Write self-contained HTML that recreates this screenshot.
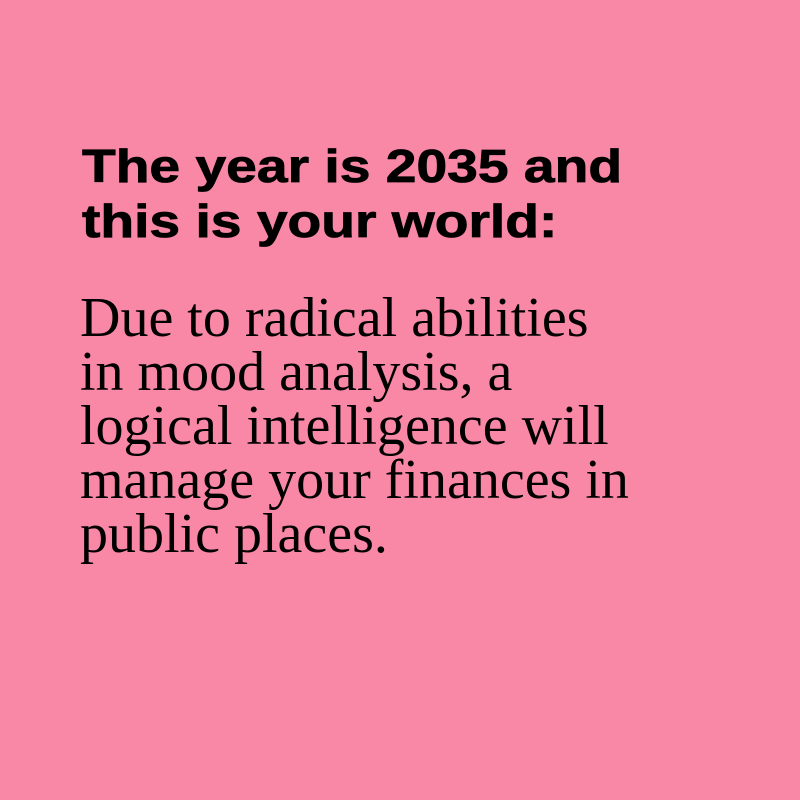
<!DOCTYPE html>
<html><head><meta charset="utf-8"><style>
html,body{margin:0;padding:0;}
body{width:800px;height:800px;background:#f988a6;position:relative;overflow:hidden;}
.t{position:absolute;left:82px;top:139px;font-family:"Liberation Sans",sans-serif;font-weight:bold;font-size:46px;line-height:55px;color:#000;white-space:nowrap;transform:scaleX(1.2);transform-origin:0 0;-webkit-text-stroke:0.8px #000;}
.b{position:absolute;left:80px;top:291px;font-family:"Liberation Serif",serif;font-size:56px;line-height:54px;color:#000;white-space:nowrap;}
</style></head><body>
<div class="t">The year is 2035 and<br>this is your world:</div>
<div class="b">Due to radical abilities<br>in mood analysis, a<br>logical intelligence will<br>manage your finances in<br>public places.</div>
</body></html>
